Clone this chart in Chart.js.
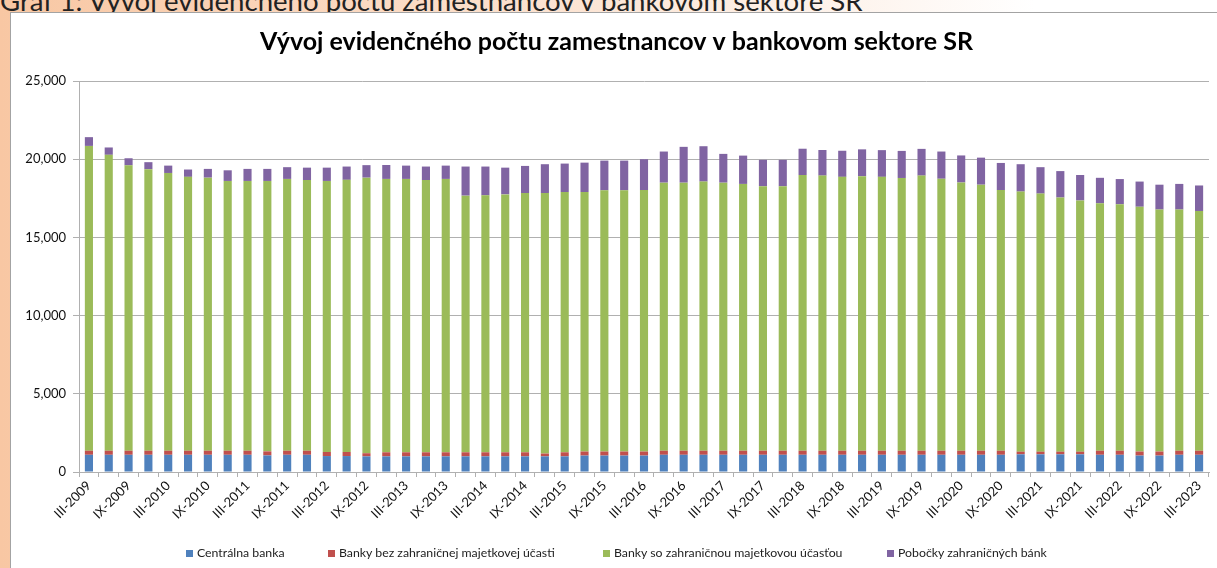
<!DOCTYPE html>
<html>
<head>
<meta charset="utf-8">
<script src="https://cdn.jsdelivr.net/npm/chart.js@4.4.0/dist/chart.umd.min.js"></script>
<style>
  html, body { margin: 0; padding: 0; }
  body {
    width: 1217px; height: 568px; overflow: hidden; position: relative;
    background: linear-gradient(to right, #f8c7a3 0%, #fbdcc6 35%, #fdf0e7 65%, #ffffff 85%);
    font-family: Lato, sans-serif;
  }
  .caption {
    position: absolute; left: 0; top: -9px; font-size: 27.6px; line-height: 20px;
    color: #222; white-space: nowrap;
  }
  .box {
    position: absolute; left: 10px; top: 12px; width: 1206px; height: 555px;
    background: #fff; border: 1px solid #a3a3a3; border-bottom: none;
  }
  .legend-item {
    position: absolute; top: 545px; font-size: 12.3px; color: #222; white-space: nowrap;
    line-height: 15px;
  }
  .legend-item span {
    display: inline-block; width: 7px; height: 7px; margin-right: 4px; vertical-align: 0px;
  }
</style>
</head>
<body>
<div class="caption">Graf 1: Vývoj evidenčného počtu zamestnancov v bankovom sektore SR</div>
<div class="box"><canvas id="chart"></canvas></div>
<div id="legend"></div>
<script>
// ─────────────────────────────────────────────────────────
//  Vývoj evidenčného počtu zamestnancov — stacked bars
// ─────────────────────────────────────────────────────────

const periods = [
  'III-2009','VI-2009','IX-2009','XII-2009',
  'III-2010','VI-2010','IX-2010','XII-2010',
  'III-2011','VI-2011','IX-2011','XII-2011',
  'III-2012','VI-2012','IX-2012','XII-2012',
  'III-2013','VI-2013','IX-2013','XII-2013',
  'III-2014','VI-2014','IX-2014','XII-2014',
  'III-2015','VI-2015','IX-2015','XII-2015',
  'III-2016','VI-2016','IX-2016','XII-2016',
  'III-2017','VI-2017','IX-2017','XII-2017',
  'III-2018','VI-2018','IX-2018','XII-2018',
  'III-2019','VI-2019','IX-2019','XII-2019',
  'III-2020','VI-2020','IX-2020','XII-2020',
  'III-2021','VI-2021','IX-2021','XII-2021',
  'III-2022','VI-2022','IX-2022','XII-2022',
  'III-2023'
];

const centralnaBanka = [
  1100,1100,1100,1100,1100,1100,1100,1100,1100,1060,1100,1100,
  1020,1020,1000,1000,1000,1000,1000,1000,1000,1000,1000,1000,1000,
  1050,1050,1050,1050,
  1100,1100,1100,1100,1100,1100,1100,1100,1100,1100,1100,1100,1100,1100,1100,1100,1100,1100,
  1130,1130,1130,1130,1100,1100,1050,1050,1100,1100
];

const bankyDomace = [
  260,260,260,260,260,260,260,260,260,260,260,260,
  260,260,200,260,260,260,260,260,260,260,260,180,260,
  260,260,260,260,
  260,260,260,260,260,260,260,260,260,260,260,260,260,260,260,260,260,260,
  170,170,170,170,260,260,260,260,260,260
];

const bankyZahranicne = [
  19490,18920,18250,18000,17760,17510,17460,17250,17250,17290,17380,17310,
  17330,17400,17620,17480,17480,17410,17480,16410,16430,16490,16580,16660,16640,
  16590,16700,16700,16720,17140,17140,17210,17140,17060,16910,16910,
  17630,17590,17510,17550,17510,17440,17590,17390,17150,17010,16670,
  16630,16500,16250,16060,15820,15760,15650,15470,15420,15330
];

const pobocky = [
  560,470,450,450,470,470,560,680,770,770,750,790,
  850,850,800,890,850,860,850,1860,1840,1710,1730,1840,1820,
  1880,1900,1900,1970,1990,2290,2260,1840,1810,1690,1690,
  1680,1640,1670,1720,1710,1730,1710,1740,1730,1730,1730,
  1750,1690,1690,1630,1630,1610,1610,1590,1640,1630
];

const yTicks = [0, 5000, 10000, 15000, 20000, 25000];

const seriesNames  = ['Centrálna banka', 'Banky bez zahraničnej majetkovej účasti',
                      'Banky so zahraničnou majetkovou účasťou', 'Pobočky zahraničných bánk'];
const seriesColors = ['#4f81bd', '#c0504d', '#9bbb59', '#8064a2'];

const font = { family: "Lato, sans-serif", size: 13 };
Chart.defaults.font = font;
Chart.defaults.color = '#111';

const gridColor = '#b0b0b0';
const seriesData = [centralnaBanka, bankyDomace, bankyZahranicne, pobocky];

new Chart(document.getElementById('chart'), {
  type: 'bar',
  data: {
    labels: periods,
    datasets: seriesData.map((d, i) => ({
      label: seriesNames[i],
      data: d,
      backgroundColor: seriesColors[i],
      borderWidth: 0,
      barPercentage: 0.41,
      categoryPercentage: 1
    }))
  },
  options: {
    responsive: true,
    maintainAspectRatio: false,
    animation: false,
    layout: { padding: { left: 13, right: 8, top: 0, bottom: 36 } },
    plugins: {
      legend: { display: false },
      tooltip: { enabled: false },
      title: {
        display: true,
        text: 'Vývoj evidenčného počtu zamestnancov v bankovom sektore SR',
        color: '#000',
        font: { family: "Lato, sans-serif", size: 25, weight: 'bold', lineHeight: 1.2 },
        padding: { top: 14, bottom: 24 }
      }
    },
    scales: {
      x: {
        stacked: true,
        grid: { offset: true, drawOnChartArea: false, tickLength: 5, color: gridColor },
        border: { color: gridColor },
        ticks: {
          autoSkip: false, maxRotation: 45, minRotation: 45, padding: 1,
          font: { family: "Lato, sans-serif", size: 13 },
          callback: (v, i) => (i % 2 === 0 ? periods[i] : '')
        },
        afterFit: s => { s.height = 60; }
      },
      y: {
        stacked: true,
        min: 0, max: 25000,
        afterBuildTicks: s => { s.ticks = yTicks.map(v => ({ value: v })); },
        grid: { color: gridColor, tickLength: 6 },
        border: { color: gridColor },
        ticks: { padding: 7, callback: v => v.toLocaleString('en-US') },
        afterFit: s => { s.width = 55; }
      }
    }
  }
});

// HTML legend
const legendLeft = [186, 328, 603, 887];
document.getElementById('legend').innerHTML = seriesNames.map((n, i) => `
  <div class="legend-item" style="left:${legendLeft[i]}px"><span style="background:${seriesColors[i]}"></span>${n}</div>
`).join('');
</script>
</body>
</html>
